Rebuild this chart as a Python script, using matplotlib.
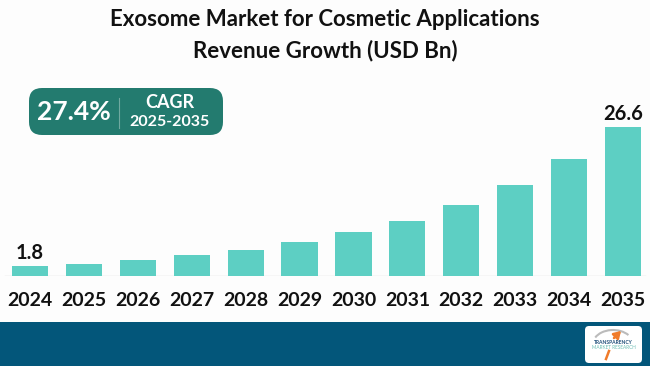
import matplotlib
matplotlib.use('Agg')
import matplotlib.pyplot as plt
from matplotlib.patches import FancyBboxPatch, Rectangle, Arc

# chart data
years = ['2024', '2025', '2026', '2027', '2028', '2029',
         '2030', '2031', '2032', '2033', '2034', '2035']
revenue = [1.8, 2.2, 2.9, 3.7, 4.7, 6.0, 7.8, 9.9, 12.6, 16.3, 20.9, 26.6]
labelled = {0: '1.8', 11: '26.6'}
cagr_value = '27.4%'
cagr_label = 'CAGR'
cagr_period = '2025-2035'
title_lines = ['Exosome Market for Cosmetic Applications', 'Revenue Growth (USD Bn)']

BAR = '#5DCFC3'
BOX = '#237B6F'
BAND = '#03567A'
FONT = 'Lato'

W, H = 650, 366
fig = plt.figure(figsize=(W / 100, H / 100), dpi=100)
fig.patch.set_facecolor('#FDFDFD')

def fx(px):
    return px / W

def fy(py):
    return 1 - py / H

# bars: baseline at y=276 px, first bar centre x=30, last x=623
spacing = (623 - 30) / 11
ax = fig.add_axes([0, fy(276), 1, (276 - 100) / H])
ax.set_facecolor('none')
ax.bar(range(len(years)), revenue, width=0.67, color=BAR, zorder=2)
ax.set_xlim(-30 / spacing, 11 + (W - 623) / spacing)
ax.set_ylim(0, (276 - 100) / 5.6)
ax.axhline(0, xmin=0.008, xmax=0.992, color='#DDDDDD', lw=1, zorder=1)
for i, txt in labelled.items():
    ax.text(i, revenue[i] + 0.5, txt, ha='center', va='bottom', fontsize=14.5,
            fontweight='bold', family=FONT, color='#111111')
ax.axis('off')

for i, y in enumerate(years):
    fig.text(fx(30 + i * spacing), fy(301), y, ha='center', va='center',
             fontsize=14, fontweight='bold', family=FONT, color='#111111')

# title
fig.text(0.5, fy(20), title_lines[0], ha='center', va='center', fontsize=16,
         fontweight='bold', family=FONT, color='#111111')
fig.text(0.5, fy(51), title_lines[1], ha='center', va='center', fontsize=16,
         fontweight='bold', family=FONT, color='#111111')

# CAGR box
box = FancyBboxPatch((fx(29), fy(135)), fx(194), (135 - 88) / H,
                     boxstyle='round,pad=0,rounding_size=0.02',
                     transform=fig.transFigure, facecolor=BOX, edgecolor='none',
                     mutation_aspect=W / H)
fig.patches.append(box)
fig.text(fx(74), fy(112), cagr_value, ha='center', va='center', fontsize=19,
         fontweight='bold', family=FONT, color='white')
fig.add_artist(plt.Line2D([fx(119), fx(119)], [fy(98), fy(128)],
                          color='#6FA9A0', lw=0.8, transform=fig.transFigure))
fig.text(fx(170), fy(102), cagr_label, ha='center', va='center', fontsize=13,
         fontweight='bold', family=FONT, color='white')
fig.text(fx(170), fy(122), cagr_period, ha='center', va='center', fontsize=11.5,
         fontweight='bold', family=FONT, color='white')

# bottom band
fig.patches.append(Rectangle((0, 0), 1, (H - 322) / H, transform=fig.transFigure,
                             facecolor=BAND, edgecolor='none', zorder=0))

# logo
lax = fig.add_axes([fx(585), fy(363), fx(57), (363 - 326) / H])
lax.set_zorder(5)
lax.set_xlim(0, 57)
lax.set_ylim(37, 0)
lax.axis('off')
lax.add_patch(FancyBboxPatch((0, 0), 57, 37, boxstyle='round,pad=0,rounding_size=4',
                             facecolor='white', edgecolor='none'))
lax.add_patch(Arc((28, 18), 40, 28, theta1=200, theta2=330, color='#BBBBBB', lw=1.5))
lax.annotate('', xy=(38, 3), xytext=(27, 14),
             arrowprops=dict(arrowstyle='-|>,head_width=0.25,head_length=0.4',
                             color='#F07B2A', lw=1.8))
lax.plot([24, 21], [25, 33], color='#F07B2A', lw=1.8)
lax.text(28.5, 16.5, 'TRANSPARENCY', ha='center', va='center', fontsize=3.6,
         fontweight='bold', family=FONT, color='#1F4E79')
lax.text(28.5, 21.5, 'MARKET RESEARCH', ha='center', va='center', fontsize=3.4,
         family=FONT, color='#6FBFB5')

fig.savefig('out.png', dpi=100, facecolor=fig.get_facecolor())
